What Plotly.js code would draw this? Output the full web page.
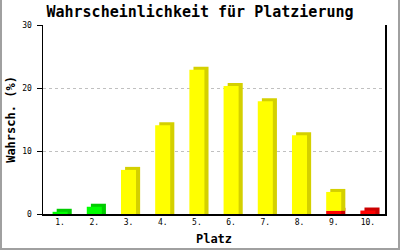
<!DOCTYPE html>
<html>
<head>
<meta charset="utf-8">
<script src="https://cdn.plot.ly/plotly-3.0.1.min.js"></script>
<style>
html,body{margin:0;padding:0;background:#fff;}
#wrap{position:relative;width:400px;height:250px;}
#chart{width:400px;height:250px;}
#frame{position:absolute;left:0;top:0;width:396px;height:248px;border-left:2px solid #a0a0a0;border-right:2px solid #a0a0a0;border-bottom:2px solid #a0a0a0;pointer-events:none;}
</style>
</head>
<body>
<div id="wrap"><div id="chart"></div><div id="frame"></div></div>
<script>
const places = [1,2,3,4,5,6,7,8,9,10];
const tickLabels = ["1.","2.","3.","4.","5.","6.","7.","8.","9.","10."];
const redValues    = [0, 0, 0, 0, 0, 0, 0, 0, 0.5, 0.55];
const greenValues  = [0.35, 1.15, 0, 0, 0, 0, 0, 0, 0, 0];
const yellowValues = [0, 0, 7.0, 14.1, 22.9, 20.3, 17.9, 12.5, 3.0, 0];

const series = [
  {vals: redValues,    front: '#ff0000', side: '#cc0000'},
  {vals: greenValues,  front: '#00ff00', side: '#00cc00'},
  {vals: yellowValues, front: '#ffff00', side: '#d4d000'}
];

const W = 0.44;      // bar width in category units
const DX = 0.12;     // 3D depth horizontally (category units)
const DY = 0.48;     // 3D depth vertically (value units)

const shadows = [], fronts = [];
let cum = places.map(() => 0);
series.forEach(s => {
  const base = cum.slice();
  const on = s.vals.map(v => v > 0);
  shadows.push({type:'bar', x: places, y: s.vals.map((v, i) => on[i] ? v + DY : null), base: base,
    width: W, offset: -W/2 + DX, marker:{color: s.side, line:{width:0}},
    hoverinfo:'skip', showlegend:false});
  fronts.push({type:'bar', x: places, y: s.vals.map((v, i) => on[i] ? v : null), base: base,
    width: W, offset: -W/2, marker:{color: s.front, line:{width:0}},
    hoverinfo:'skip', showlegend:false});
  cum = cum.map((c, i) => c + s.vals[i]);
});

const mono = "DejaVu Sans Mono, Liberation Mono, monospace";
const layout = {
  width: 400, height: 250,
  margin: {l: 43, r: 15, t: 25, b: 36},
  paper_bgcolor: '#fff', plot_bgcolor: '#fff',
  barmode: 'overlay',
  showlegend: false,
  title: {text: '<b>Wahrscheinlichkeit für Platzierung</b>', x: 0.5, xanchor: 'center', y: 0.955, yanchor: 'middle',
    font: {family: mono, size: 15, color: '#000'}},
  xaxis: {range: [0.5, 10.5], tickvals: places, ticktext: tickLabels, ticks: '', showgrid: false,
    showline: true, linecolor: '#000', linewidth: 1.5, zeroline: false,
    tickfont: {family: mono, size: 8, color: '#000'},
    title: {text: '<b>Platz</b>', standoff: 8, font: {family: mono, size: 12, color: '#000'}}},
  yaxis: {range: [0, 30], dtick: 10, ticks: 'outside', ticklen: 5, tickcolor: '#000', tickwidth: 1,
    ticklabelstandoff: 3,
    showline: true, mirror: true, linecolor: '#000', linewidth: 1.5, zeroline: false,
    showgrid: true, gridcolor: '#c0c0c0', griddash: 'dot', gridwidth: 1,
    tickfont: {family: mono, size: 8, color: '#000'},
    title: {text: '<b>Wahrsch. (%)</b>', standoff: 4, font: {family: mono, size: 12, color: '#000'}}},
  font: {family: mono}
};
Plotly.newPlot('chart', shadows.concat(fronts), layout, {staticPlot: true, displayModeBar: false});
</script>
</body>
</html>
